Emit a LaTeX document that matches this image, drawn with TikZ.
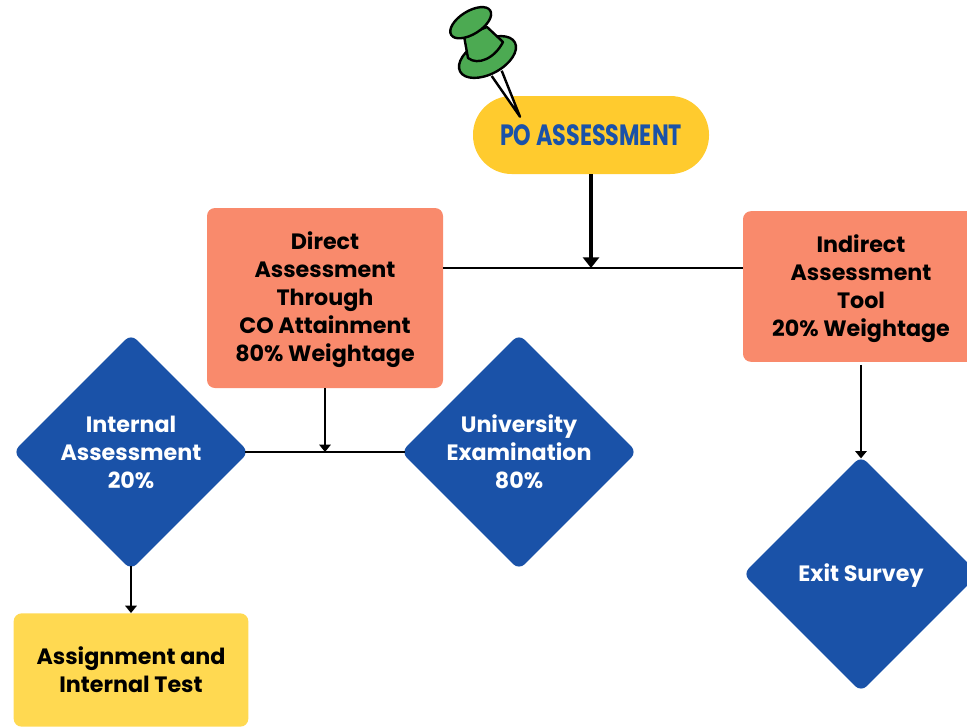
\documentclass[tikz,border=0pt]{standalone}
\usepackage{fontspec}
\usepackage{graphicx}
\setmainfont{Poppins}
\usetikzlibrary{shapes.geometric,arrows.meta,calc}
\definecolor{pill}{HTML}{FFCB2E}
\definecolor{salmon}{HTML}{F98A6C}
\definecolor{navy}{HTML}{1A52A8}
\definecolor{lemon}{HTML}{FFD951}
\definecolor{pin}{HTML}{4CAA52}
\newcommand{\lbl}[1]{\fontsize{16.6bp}{20.8bp}\selectfont\bfseries #1}
\newcommand{\dnlbl}[1]{\raisebox{0pt}[\dimexpr\height+3pt\relax]{\lbl{#1}}}
\tikzset{
  x=0.75pt,y=-0.75pt,
  salmonbox/.style={fill=salmon,rounded corners=6pt,inner sep=0pt,align=center,text=black,font=\fontsize{16.6pt}{21pt}\selectfont},
  lemonbox/.style={fill=lemon,rounded corners=6pt,inner sep=0pt,align=center,text=black,font=\fontsize{16.6pt}{21pt}\selectfont},
  decision/.style={diamond,aspect=1,fill=navy,rounded corners=6pt,inner sep=0pt,minimum width=177pt,minimum height=177pt,align=center,text=white,font=\fontsize{16.6pt}{21pt}\selectfont},
  flow/.style={draw=black,line width=1.9pt},
  flowtip/.style={flow,-{Triangle[width=8.5pt,length=5.5pt]}},
  bigtip/.style={draw=black,line width=2.8pt,-{Triangle[width=12pt,length=8pt]}},
  pinpart/.style={draw=black,fill=pin,line width=1.8pt,line join=round},
}
\begin{document}
\begin{tikzpicture}
\useasboundingbox (0,0) rectangle (967,726);
\clip (0,0) rectangle (967,726);
% nodes
\node[fill=pill,rounded corners=29pt,minimum width=177pt,minimum height=58.5pt,inner sep=0pt,text=navy] (po) at (591,135)
  {\fontsize{22pt}{24pt}\selectfont\bfseries\scalebox{0.76}[1]{PO ASSESSMENT}};
\node[salmonbox,minimum width=177pt,minimum height=135pt] (direct) at (325,298)
  {\dnlbl{Direct}\\\lbl{Assessment}\\\lbl{Through}\\\lbl{CO Attainment}\\\lbl{80\% Weightage}};
\node[salmonbox,minimum width=177pt,minimum height=113pt] (indirect) at (861,286.5)
  {\dnlbl{Indirect}\\\lbl{Assessment}\\\lbl{Tool}\\\lbl{20\% Weightage}};
\node[decision] (internal) at (131,452) {\lbl{Internal}\\\lbl{Assessment}\\\lbl{20\%}};
\node[decision] (univ) at (519,452) {\lbl{University}\\\lbl{Examination}\\\lbl{80\%}};
\node[decision] (exit) at (861,574) {\dnlbl{Exit Survey}};
\node[lemonbox,minimum width=176pt,minimum height=85pt] (assign) at (131,670)
  {\lbl{Assignment and}\\\lbl{Internal Test}};
% connectors
\coordinate (top) at (591,268);
\coordinate (mid) at (325,452);
\draw[flow] (direct.east |- top) -- (indirect.west |- top);
\draw[bigtip] (po.south) -- (top);
\draw[flow,shorten <=-3pt,shorten >=-3pt] (internal.east) -- (univ.west);
\draw[flowtip] (direct.south -| mid) -- (mid);
\draw[flowtip,shorten >=-2pt] ([yshift=-2pt]indirect.south) -- (exit.north);
\draw[flowtip,shorten <=-3pt] (internal.south) -- (assign.north);
% push pin
\draw[pinpart,fill=white] (491.7,76) -- (520,116.7) -- (501.7,70.7);
\draw[pinpart] (487.5,57) ellipse[x radius=31,y radius=17,rotate=28];
\draw[pinpart] (464,36) -- (468,58) .. controls (478,66) and (495,58) .. (503,42) -- (487,27) -- cycle;
\draw[pinpart] (470.7,22.7) ellipse[x radius=23,y radius=11.5,rotate=32];
\end{tikzpicture}
\end{document}
